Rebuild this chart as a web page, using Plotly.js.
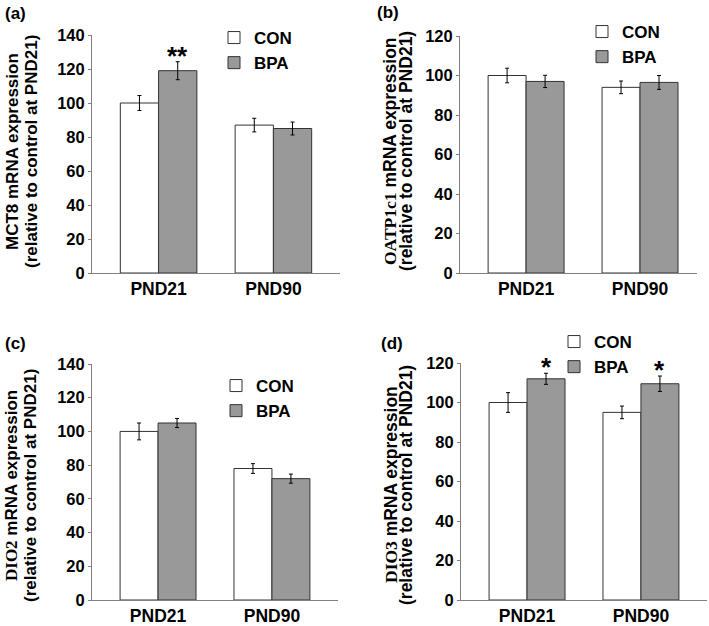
<!DOCTYPE html>
<html>
<head>
<meta charset="utf-8">
<script src="https://cdn.plot.ly/plotly-3.0.1.min.js"></script>
<style>html,body{margin:0;padding:0;background:#fff;}#chart{width:709px;height:626px;}</style>
</head>
<body>
<div id="chart"></div>
<script>
// ---- data ----
const categories = ['PND21', 'PND90'];
const seriesNames = ['CON', 'BPA'];
const panelLabels = ['(a)', '(b)', '(c)', '(d)'];
const geneNames = ['MCT8', 'OATP1c1', 'DIO2', 'DIO3'];
const geneSerif = [false, true, true, true];
const titleRest = ' mRNA expression';
const titleLine2 = '(relative to control at PND21)';

const conA = [100, 87];      const conAErr = [4.4, 4.0];
const bpaA = [119, 85];      const bpaAErr = [5.3, 3.8];
const conB = [100, 94];      const conBErr = [3.7, 3.2];
const bpaB = [97, 96.5];     const bpaBErr = [3.1, 3.5];
const conC = [100, 78];      const conCErr = [5.0, 2.9];
const bpaC = [105, 72];      const bpaCErr = [2.7, 2.7];
const conD = [100, 95];      const conDErr = [5.0, 3.2];
const bpaD = [112, 109.5];   const bpaDErr = [2.8, 3.9];

const sigA = ['**', ''];
const sigB = ['', ''];
const sigC = ['', ''];
const sigD = ['*', '*'];

const yMax = [140, 120, 140, 120];

// ---- layout geometry (pixels) ----
const W = 709, H = 626;
const FONT = 'Arial, Liberation Sans, sans-serif';
const b = s => '<b>' + s + '</b>';

const panels = [
  {con: conA, conErr: conAErr, bpa: bpaA, bpaErr: bpaAErr, sig: sigA,
   xPx: [92, 340], yPx: [273, 35], xr: [-0.58, 1.58],
   label: [3, 14], t1: [12, 152], t2: [31, 152], tsize: 17, leg: [214, 20]},
  {con: conB, conErr: conBErr, bpa: bpaB, bpaErr: bpaBErr, sig: sigB,
   xPx: [460, 697], yPx: [273, 36], xr: [-0.58, 1.5],
   label: [375, 13], t1: [390, 151], t2: [406, 151], tsize: 17.5, leg: [582, 14]},
  {con: conC, conErr: conCErr, bpa: bpaC, bpaErr: bpaCErr, sig: sigC,
   xPx: [92, 338], yPx: [600, 364], xr: [-0.58, 1.58],
   label: [3, 343], t1: [11, 486], t2: [30, 486], tsize: 17, leg: [216, 368]},
  {con: conD, conErr: conDErr, bpa: bpaD, bpaErr: bpaDErr, sig: sigD,
   xPx: [461, 707], yPx: [600, 363], xr: [-0.58, 1.58],
   label: [379, 343], t1: [391, 485], t2: [406, 485], tsize: 17.5, leg: [554, 324]}
];

const traces = [];
const layout = {
  width: W, height: H,
  margin: {l: 0, r: 0, t: 0, b: 0},
  paper_bgcolor: '#fff', plot_bgcolor: 'rgba(0,0,0,0)',
  font: {family: FONT, color: '#000', size: 16, weight: 700},
  barmode: 'group', bargap: 1/3, bargroupgap: 0,
  annotations: [],
  showlegend: true
};

panels.forEach((p, i) => {
  const n = i + 1;
  const xa = 'x' + (n === 1 ? '' : n), ya = 'y' + (n === 1 ? '' : n);
  const legName = 'legend' + (n === 1 ? '' : n);
  const common = {type: 'bar', x: categories, xaxis: xa, yaxis: ya, legend: legName,
                  hoverinfo: 'skip', cliponaxis: false};
  traces.push(Object.assign({}, common, {
    name: b(seriesNames[0]), y: p.con,
    marker: {color: '#ffffff', line: {color: '#333333', width: 1}},
    error_y: {type: 'data', array: p.conErr, visible: true, color: '#000', thickness: 1, width: 2}
  }));
  traces.push(Object.assign({}, common, {
    name: b(seriesNames[1]), y: p.bpa,
    marker: {color: '#999999', line: {color: '#333333', width: 1}},
    error_y: {type: 'data', array: p.bpaErr, visible: true, color: '#000', thickness: 1, width: 2}
  }));

  const yTickVals = [];
  for (let v = 0; v <= yMax[i]; v += 20) yTickVals.push(v);

  layout['xaxis' + (n === 1 ? '' : n)] = {
    domain: [p.xPx[0] / W, p.xPx[1] / W], anchor: ya,
    type: 'category', range: p.xr, fixedrange: true,
    tickvals: categories, ticktext: categories.map(b),
    showline: true, linecolor: '#808080', linewidth: 1,
    ticks: '', showgrid: false, zeroline: false,
    tickfont: {family: FONT, size: 17.5, weight: 700, color: '#000'}
  };
  layout['yaxis' + (n === 1 ? '' : n)] = {
    domain: [1 - p.yPx[0] / H, 1 - p.yPx[1] / H], anchor: xa,
    range: [0, yMax[i]], fixedrange: true,
    tickvals: yTickVals, ticktext: yTickVals.map(v => b(String(v))),
    showline: true, linecolor: '#808080', linewidth: 1,
    ticks: 'outside', ticklen: 3, tickcolor: '#808080', tickwidth: 1,
    showgrid: false, zeroline: false,
    tickfont: {family: FONT, size: 16.5, weight: 700, color: '#000'}
  };
  layout[legName] = {
    x: p.leg[0] / W, y: 1 - p.leg[1] / H, xanchor: 'left', yanchor: 'top',
    xref: 'paper', yref: 'paper',
    bgcolor: 'rgba(0,0,0,0)', borderwidth: 0, tracegroupgap: 0,
    font: {family: FONT, size: 17, weight: 700, color: '#000'},
    traceorder: 'normal'
  };

  // panel label
  layout.annotations.push({
    xref: 'paper', yref: 'paper', x: p.label[0] / W, y: 1 - p.label[1] / H,
    xanchor: 'left', yanchor: 'middle', showarrow: false, text: b(panelLabels[i]),
    font: {family: FONT, size: 17, weight: 700, color: '#000'}
  });
  // y-axis title (two lines)
  const gene = geneSerif[i]
    ? '<span style="font-family:\'Liberation Serif\', \'Times New Roman\', serif">' + geneNames[i] + '</span>'
    : geneNames[i];
  layout.annotations.push({
    xref: 'paper', yref: 'paper', x: p.t1[0] / W, y: 1 - p.t1[1] / H,
    xanchor: 'center', yanchor: 'middle', showarrow: false, textangle: -90,
    text: b(gene + titleRest),
    font: {family: FONT, size: p.tsize, weight: 700, color: '#000'}
  });
  layout.annotations.push({
    xref: 'paper', yref: 'paper', x: p.t2[0] / W, y: 1 - p.t2[1] / H,
    xanchor: 'center', yanchor: 'middle', showarrow: false, textangle: -90,
    text: b(titleLine2),
    font: {family: FONT, size: p.tsize, weight: 700, color: '#000'}
  });
  // significance stars
  p.sig.forEach((s, k) => {
    if (!s) return;
    layout.annotations.push({
      xref: xa, yref: ya, x: k + 1/6, y: p.bpa[k] + p.bpaErr[k],
      xanchor: 'center', yanchor: 'bottom', yshift: -11, showarrow: false, text: b(s),
      font: {family: FONT, size: 26, weight: 700, color: '#000'}
    });
  });
});

Plotly.newPlot('chart', traces, layout, {staticPlot: true, displayModeBar: false});
</script>
</body>
</html>
